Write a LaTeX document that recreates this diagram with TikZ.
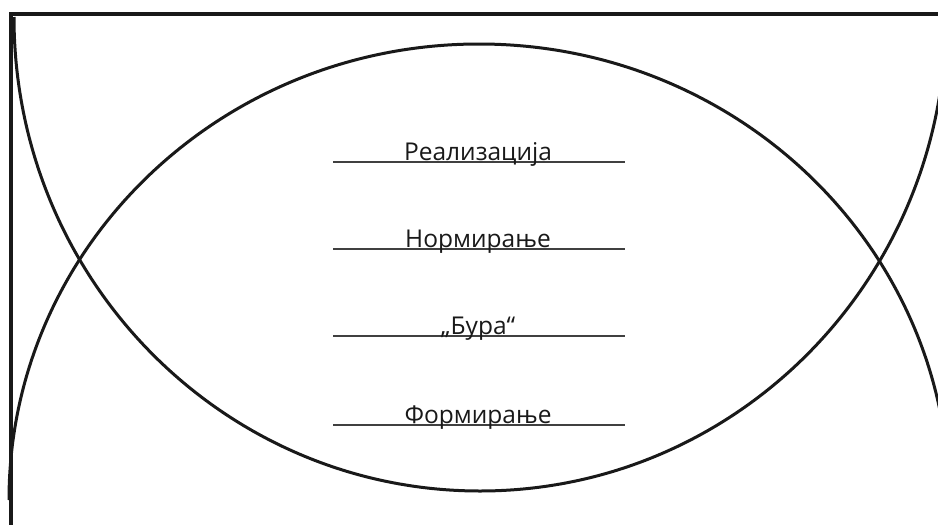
\documentclass[tikz,border=0pt]{standalone}
\usepackage{fontspec}
\setmainfont{Open Sans}
\begin{document}
\begin{tikzpicture}[x=1pt,y=-1pt,
  frame/.style={line width=3.4pt, black!90},
  bigarc/.style={line width=3pt, black!90},
  rule/.style={line width=1.6pt, black!75},
  lbl/.style={font=\fontsize{24.5}{29}\selectfont, anchor=base, inner sep=0pt, text=black!90}]
\useasboundingbox (0,0) rectangle (938,525);
\clip (0,0) rectangle (938,525);
\fill[white] (0,0) rectangle (938,525);
% frame
\coordinate (fb) at (11,525);
\coordinate (fc) at (11,14);
\coordinate (fr) at (938,14);
\draw[frame] (fb) -- (fc) -- (fr);
% arcs
\coordinate (a1) at (14,17);
\draw[bigarc] (a1) arc[start angle=180, end angle=0, x radius=466, y radius=474];
\coordinate (b1) at (9,500);
\draw[bigarc] (b1) arc[start angle=180, end angle=360, x radius=470, y radius=456];
% labels with rules
\foreach \i/\y/\t in {1/162/Реализација, 2/249/Нормирање, 3/336/„Бура“, 4/425/Формирање}{
  \coordinate (l\i) at (333,\y);
  \coordinate (r\i) at (625,\y);
  \draw[rule] (l\i) -- (r\i);
  \node[lbl] (t\i) at (478,\y-1.5) {\t};
}
\end{tikzpicture}
\end{document}
